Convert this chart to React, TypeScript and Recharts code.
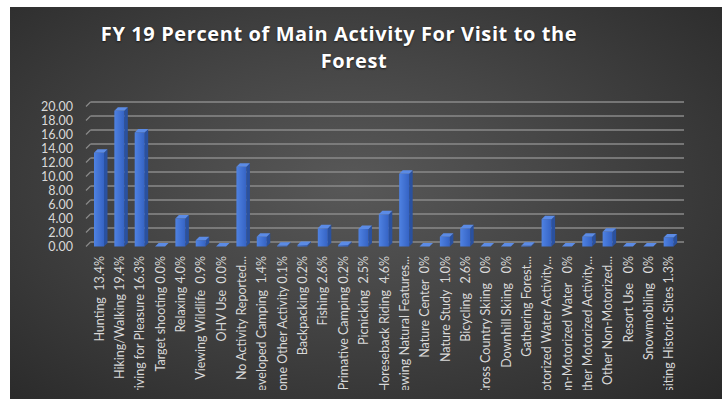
import React from 'react';
import { BarChart, Bar, XAxis, YAxis, CartesianGrid } from 'recharts';

const CATEGORIES = [
  'Hunting  13.4%',
  'Hiking/Walking 19.4%',
  'Driving for Pleasure 16.3%',
  'Target shooting 0.0%',
  'Relaxing 4.0%',
  'Viewing Wildlife  0.9%',
  'OHV Use  0.0%',
  'No Activity Reported...',
  'Developed Camping  1.4%',
  'Some Other Activity 0.1%',
  'Backpacking 0.2%',
  'Fishing 2.6%',
  'Primative Camping 0.2%',
  'Picnicking  2.5%',
  'Horeseback Riding  4.6%',
  'Viewing Natural Features...',
  'Nature Center  0%',
  'Nature Study  1.0%',
  'Bicycling   2.6%',
  'Cross Country Skiing   0%',
  'Downhill Skiing   0%',
  'Gathering Forest...',
  'Motorized Water Activity...',
  'Non-Motorized Water   0%',
  'Other Motorized Activity...',
  'Other Non-Motorized...',
  'Resort Use   0%',
  'Snowmobiling   0%',
  'Visiting Historic Sites 1.3%',
];

const VALUES = [
  13.4, 19.4, 16.3, 0, 4.0, 0.9, 0, 11.4, 1.4, 0.1, 0.2, 2.6, 0.2, 2.5, 4.6,
  10.4, 0, 1.4, 2.6, 0, 0, 0.1, 3.9, 0, 1.4, 2.1, 0, 0, 1.3,
];

const Y_TICKS = [0, 2, 4, 6, 8, 10, 12, 14, 16, 18, 20];

const data = CATEGORIES.map((name, i) => ({ name, value: VALUES[i] }));

const DEPTH = 3.5;
const LABEL_COLOR = '#d9d9d9';
const FONT = 'Lato, "Open Sans", sans-serif';

const Bar3D = (props: any) => {
  const { x, y, width, height } = props;
  const h = Math.max(height, 0);
  const d = DEPTH;
  return (
    <g>
      {h > 0.3 && (
        <polygon
          points={`${x + width},${y} ${x + width + d},${y - d} ${x + width + d},${y + h - d} ${x + width},${y + h}`}
          fill="#2a519f"
        />
      )}
      {h > 0.3 && <rect x={x} y={y} width={width} height={h} fill="url(#barFront)" />}
      <polygon
        points={`${x},${y} ${x + d},${y - d} ${x + width + d},${y - d} ${x + width},${y}`}
        fill="#5b8be6"
      />
    </g>
  );
};

const GridLine = (props: any) => {
  const { x1, x2, y1, index } = props;
  const d = 4.5;
  return (
    <g key={`grid-${index}`}>
      <line x1={x1 - 3} y1={y1} x2={x1 + 1.5} y2={y1 - d} stroke="#8a8a8a" strokeWidth={1.3} />
      <line x1={x1 + 1.5} y1={y1 - d} x2={x2 + 5} y2={y1 - d} stroke="#8a8a8a" strokeWidth={1.3} />
    </g>
  );
};

const CategoryTick = ({ x, y, payload }: any) => (
  <text
    x={x}
    y={y + 9.5}
    transform={`rotate(-90 ${x} ${y + 9.5})`}
    textAnchor="end"
    dominantBaseline="central"
    fill={LABEL_COLOR}
    fontSize={12.5}
    fontFamily={FONT}
    style={{ whiteSpace: 'pre' }}
  >
    {payload.value}
  </text>
);

const titleStyle: React.CSSProperties = {
  position: 'absolute',
  width: 600,
  textAlign: 'center',
  color: '#fff',
  fontFamily: '"Open Sans", sans-serif',
  fontWeight: 700,
  fontSize: 20,
  letterSpacing: 0.6,
  lineHeight: '26px',
  textShadow: '0 1px 2px rgba(0,0,0,0.6)',
  whiteSpace: 'nowrap',
};

export default function App() {
  return (
    <div style={{ position: 'absolute', left: 0, top: 0, width: 722, height: 399, background: '#fff' }}>
      <div
        style={{
          position: 'absolute',
          left: 10,
          top: 7,
          width: 712,
          height: 392,
          overflow: 'hidden',
          background: 'radial-gradient(ellipse at 48% 45%, #585858 0%, #464646 40%, #292929 100%)',
        }}
      >
        <div style={{ ...titleStyle, left: 329 - 300, top: 14 }}>
          FY 19 Percent of Main Activity For Visit to the
        </div>
        <div style={{ ...titleStyle, left: 344 - 300, top: 41 }}>Forest</div>
        <BarChart
          width={712}
          height={383}
          data={data}
          margin={{ top: 99.5, right: 43, left: 0, bottom: 0 }}
          style={{ position: 'absolute', left: 0, top: 0 }}
        >
          <defs>
            <linearGradient id="barFront" x1="0" y1="0" x2="1" y2="0">
              <stop offset="0%" stopColor="#4f82e2" />
              <stop offset="100%" stopColor="#3563c4" />
            </linearGradient>
          </defs>
          <CartesianGrid vertical={false} horizontal={(p: any) => <GridLine {...p} />} />
          <XAxis
            dataKey="name"
            interval={0}
            axisLine={false}
            tickLine={false}
            tickSize={0}
            tickMargin={0}
            height={143.5}
            tick={<CategoryTick />}
          />
          <YAxis
            domain={[0, 20]}
            ticks={Y_TICKS}
            interval={0}
            width={79}
            axisLine={false}
            tickLine={false}
            tickSize={0}
            tickMargin={16}
            tickFormatter={(v: number) => v.toFixed(2)}
            tick={{ fill: LABEL_COLOR, fontSize: 12.5, fontFamily: FONT }}
          />
          <Bar dataKey="value" barSize={10} shape={<Bar3D />} isAnimationActive={false} />
        </BarChart>
      </div>
    </div>
  );
}
